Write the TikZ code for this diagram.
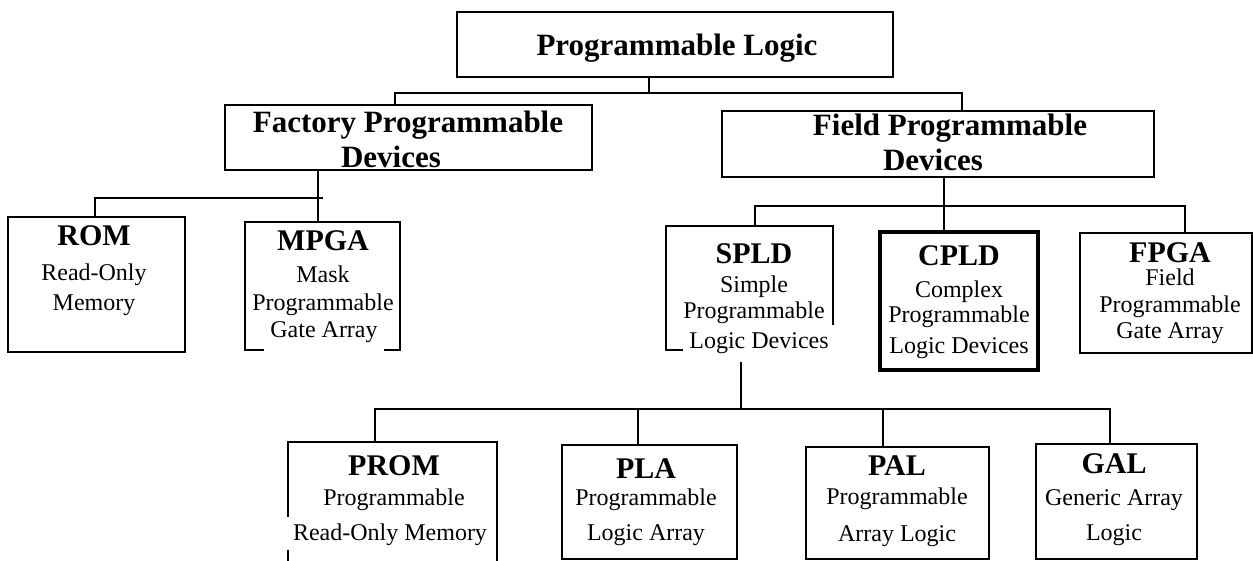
\documentclass[tikz,border=0pt]{standalone}
\usepackage{fontspec}
\setmainfont{Liberation Serif}

\tikzset{
    box/.style = {draw, line width = 1.3pt, inner sep = 0pt, outer sep = 0pt, anchor = north west},
    txt/.style = {align = center, inner sep = 0pt, anchor = base, font = \fontsize{24}{28}\selectfont},
    head/.style = {align = center, inner sep = 0pt, anchor = base, font = \bfseries\fontsize{31}{35}\selectfont},
    mask/.style = {txt, fill = white, inner xsep = 6.5pt},
    link/.style = {line width = 1.3pt},
}
\newcommand{\ttl}[1]{{\bfseries\fontsize{30}{30}\selectfont #1}}

\begin{document}
\begin{tikzpicture}[x = 1pt, y = -1pt]
    \useasboundingbox (0, 0) rectangle (1253, 560);

% The boxes, placed by their top left corner (pixel units).
    \node [box, minimum width = 436pt, minimum height = 65pt] (pl) at (457, 12) {};
    \node [box, minimum width = 367pt, minimum height = 65pt] (fac) at (225, 105) {};
    \node [box, minimum width = 432pt, minimum height = 66pt] (fld) at (722, 111) {};

    \node [box, minimum width = 177pt, minimum height = 135pt] (rom) at (8, 217) {};
    \node [box, minimum width = 155pt, minimum height = 128pt] (mpga) at (245, 222) {};
    \node [box, minimum width = 167pt, minimum height = 124pt] (spld) at (666, 226) {};
    \node [box, line width = 4pt, minimum width = 158pt, minimum height = 138pt] (cpld) at (880, 232) {};
    \node [box, minimum width = 172pt, minimum height = 120pt] (fpga) at (1080, 233) {};

    \node [box, minimum width = 209pt, minimum height = 125pt] (prom) at (288, 442) {};
    \node [box, minimum width = 175pt, minimum height = 114pt] (pla) at (562, 445) {};
    \node [box, minimum width = 183pt, minimum height = 112pt] (pal) at (806, 447) {};
    \node [box, minimum width = 161pt, minimum height = 115pt] (gal) at (1036, 444) {};

% Last lines with a white frame, which hides a piece of the border.
    \node [mask, text depth = 15pt] (mpga-m) at (324, 337) {Gate Array};
    \node [mask, text height = 23pt, text depth = 5pt] (spld-m) at (759, 348) {Logic Devices};
    \node [mask, inner xsep = 8pt, text height = 23pt, text depth = 10pt] (prom-m) at (390, 540) {Read-Only Memory};

% Texts, placed by the baseline of their last line.
    \node [head] (pl-t) at (677, 55) {Programmable Logic};
    \node [head] (fac-t) at (408, 167) {Factory Programmable\\Devices\hspace*{34pt}};
    \node [head] (fld-t) at (950, 170) {Field Programmable\\Devices\hspace*{34pt}};

    \node [txt] (rom-t) at (94, 310) {\ttl{ROM}\\[7pt] Read-Only\\[2pt] Memory};
    \node [txt] (mpga-t) at (323, 310) {\ttl{MPGA}\\[4pt] Mask\\ Programmable};
    \node [txt] (spld-t) at (754, 318) {\ttl{SPLD}\\[1pt] Simple\\[-2pt] Programmable};
    \node [txt] (cpld-t) at (959, 353) {\ttl{CPLD}\\[4pt] Complex\\[-3pt] Programmable\\[3pt] Logic Devices};
    \node [txt] (fpga-t) at (1170, 338) {\ttl{FPGA}\\[-5pt] Field\\[-1pt] Programmable\\[-2pt] Gate Array};

    \node [txt] (prom-t) at (394, 505) {\ttl{PROM}\\[2pt] Programmable};
    \node [txt] (pla-t) at (646, 540) {\ttl{PLA}\\[-1pt] Programmable\\[7pt] Logic Array};
    \node [txt] (pal-t) at (897, 541) {\ttl{PAL}\\[1pt] Programmable\\[9pt] Array Logic};
    \node [txt] (gal-t) at (1114, 540) {\ttl{GAL}\\[4pt] Generic Array\\[7pt] Logic};

% Branch points of the tree.
    \coordinate (j1) at (649, 93);
    \coordinate (j1l) at (395, 93);
    \coordinate (j1r) at (962, 93);
    \coordinate (j2) at (318, 198);
    \coordinate (j2l) at (95, 198);
    \coordinate (j2r) at (323, 198);
    \coordinate (j3) at (944, 206);
    \coordinate (j3l) at (755, 206);
    \coordinate (j3r) at (1185, 206);
    \coordinate (j4t) at (741, 362);
    \coordinate (j4) at (741, 409);
    \coordinate (j4l) at (375, 409);
    \coordinate (j4a) at (638, 409);
    \coordinate (j4b) at (883, 409);
    \coordinate (j4r) at (1110, 409);

    \draw [link] (pl.south -| j1) -- (j1);
    \draw [link] (fac.north -| j1l) |- (j1r) -- (fld.north -| j1r);

    \draw [link] (fac.south -| j2) -- (mpga.north -| j2);
    \draw [link] (rom.north -| j2l) |- (j2r);

    \draw [link] (fld.south -| j3) -- (cpld.north -| j3);
    \draw [link] (spld.north -| j3l) |- (j3r) -- (fpga.north -| j3r);

    \draw [link] (j4t) -- (j4);
    \draw [link] (prom.north -| j4l) |- (j4r) -- (gal.north -| j4r);
    \draw [link] (j4a) -- (pla.north -| j4a);
    \draw [link] (j4b) -- (pal.north -| j4b);
\end{tikzpicture}
\end{document}
